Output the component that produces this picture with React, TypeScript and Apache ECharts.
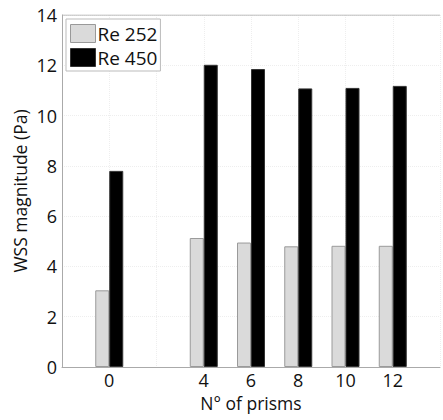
import React, { useEffect, useRef } from "react";
import * as echarts from "echarts";

const prisms = [0, 4, 6, 8, 10, 12];
const re252 = [3.05, 5.13, 4.95, 4.8, 4.82, 4.82];
const re450 = [7.8, 12.02, 11.85, 11.08, 11.1, 11.18];
const shownTicks = [0, 4, 6, 8, 10, 12];

export default function App() {
  const ref = useRef<HTMLDivElement>(null);
  useEffect(() => {
    const chart = echarts.init(ref.current!, null, { renderer: "svg" });
    const font = "Open Sans";
    chart.setOption({
      animation: false,
      textStyle: { fontFamily: font },
      grid: { left: 62, top: 15, width: 388, height: 352, containLabel: false },
      legend: {
        orient: "vertical",
        left: 66,
        top: 19,
        padding: [5, 3, 4, 4],
        itemGap: 5,
        itemWidth: 25,
        itemHeight: 18,
        icon: "rect",
        borderColor: "#bbb",
        borderWidth: 1,
        backgroundColor: "#fff",
        textStyle: { fontSize: 19, color: "#111", fontFamily: font, padding: [0, 0, 0, -3] },
        data: [
          { name: "Re 252", itemStyle: { color: "#dadada", borderColor: "#999", borderWidth: 1 } },
          { name: "Re 450", itemStyle: { color: "#000", borderColor: "#333", borderWidth: 1 } },
        ],
      },
      xAxis: {
        type: "value",
        min: -2,
        max: 14,
        interval: 2,
        name: "N° of prisms",
        nameLocation: "middle",
        nameGap: 27,
        nameMoveOverlap: false,
        nameTextStyle: { fontSize: 17.5, color: "#111", fontFamily: font },
        axisLine: { onZero: false, lineStyle: { color: "#aaa" } },
        axisTick: { show: false },
        axisLabel: {
          fontSize: 18,
          color: "#111",
          margin: 4,
          formatter: (v: number) => (shownTicks.includes(v) ? String(v) : ""),
        },
        splitLine: { show: true, lineStyle: { color: "#eee", type: "dotted" } },
      },
      yAxis: {
        type: "value",
        min: 0,
        max: 14,
        interval: 2,
        name: "WSS magnitude (Pa)",
        nameLocation: "middle",
        nameGap: 33,
        nameMoveOverlap: false,
        nameTextStyle: { fontSize: 17.5, color: "#111", fontFamily: font },
        axisLine: { show: true, onZero: false, lineStyle: { color: "#aaa" } },
        axisTick: { show: false },
        axisLabel: { fontSize: 18, color: "#111", margin: 5 },
        splitLine: { show: true, lineStyle: { color: "#eee", type: "dotted" } },
      },
      series: [
        {
          name: "Re 252",
          type: "bar",
          barWidth: 14,
          barGap: "0%",
          itemStyle: { color: "#dadada", borderColor: "#9a9a9a", borderWidth: 1 },
          data: prisms.map((p, i) => [p, re252[i]]),
        },
        {
          name: "Re 450",
          type: "bar",
          barWidth: 14,
          barGap: "0%",
          itemStyle: { color: "#000", borderColor: "#333", borderWidth: 1 },
          data: prisms.map((p, i) => [p, re450[i]]),
        },
        {
          type: "line",
          silent: true,
          symbol: "none",
          lineStyle: { color: "#aaa", width: 1 },
          data: [[-2, 14], [14, 14]],
          tooltip: { show: false },
        },
      ],
    });
    return () => chart.dispose();
  }, []);
  return <div ref={ref} style={{ width: 443, height: 420, position: "absolute", left: 0, top: 0 }} />;
}
